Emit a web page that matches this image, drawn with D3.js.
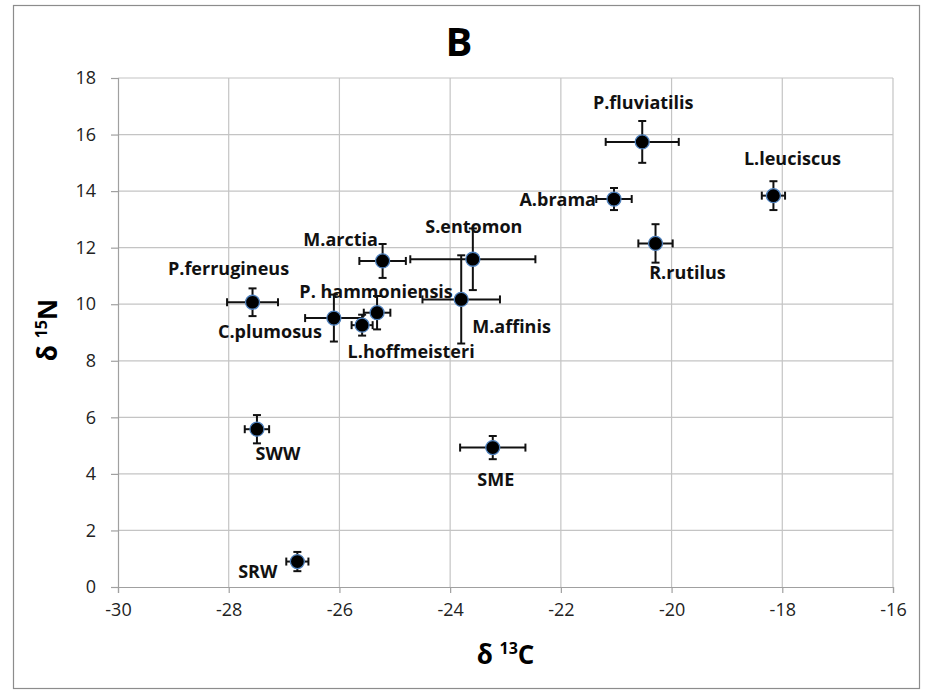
<!DOCTYPE html>
<html>
<head>
<meta charset="utf-8">
<script src="https://cdn.jsdelivr.net/npm/d3@7"></script>
<style>
  body { margin: 0; background: #fff; }
  text { font-family: "Open Sans", "Noto Sans", sans-serif; }
</style>
</head>
<body>
<div id="chart"></div>
<script>
// taxa, d13C mean / sd, d15N mean / sd
var names = ["P.fluviatilis", "L.leuciscus", "A.brama", "R.rutilus", "S.entomon", "M.arctia",
  "M.affinis", "P.ferrugineus", "C.plumosus", "L.hoffmeisteri", "P. hammoniensis", "SWW", "SME", "SRW"];
var carbon = [-20.53, -18.16, -21.04, -20.29, -23.59, -25.22, -23.80, -27.57, -26.10, -25.59, -25.32, -27.49, -23.23, -26.76];
var carbonErr = [0.66, 0.21, 0.32, 0.31, 1.13, 0.42, 0.70, 0.46, 0.52, 0.19, 0.24, 0.22, 0.59, 0.20];
var nitrogen = [15.74, 13.84, 13.72, 12.15, 11.59, 11.53, 10.17, 10.07, 9.51, 9.26, 9.70, 5.58, 4.93, 0.90];
var nitrogenErr = [0.74, 0.51, 0.39, 0.68, 1.09, 0.60, 1.56, 0.49, 0.83, 0.37, 0.59, 0.50, 0.41, 0.34];
var xTicks = [-30, -28, -26, -24, -22, -20, -18, -16];
var yTicks = [0, 2, 4, 6, 8, 10, 12, 14, 16, 18];

// label placement relative to each point: [dx, dy, anchor]
var labelPos = [[1, -39, "middle"], [19, -37, "middle"], [-18, 1, "end"], [32, 29, "middle"],
  [1, -33, "middle"], [-42, -21, "middle"], [11, 27, "start"], [-24, -34, "middle"],
  [-12, 14, "end"], [49, 27, "middle"], [-1, -21, "middle"], [21, 24, "middle"],
  [3, 32, "middle"], [-20, 10, "end"]];

var svgWidth = 926;
var svgHeight = 691;
var margin = { top: 78, right: 33, bottom: 104, left: 118 };
var width = svgWidth - margin.left - margin.right;
var height = svgHeight - margin.top - margin.bottom;

var svg = d3.select("#chart")
  .append("svg")
  .attr("width", svgWidth)
  .attr("height", svgHeight);

// outer frame
svg.append("rect")
  .attr("x", 13.5).attr("y", 5.5)
  .attr("width", 906).attr("height", 683)
  .attr("fill", "white")
  .attr("stroke", "#8c8c8c")
  .attr("stroke-width", 1.2);

var chartGroup = svg.append("g")
  .attr("transform", `translate(${margin.left}, ${margin.top})`);

var x = d3.scaleLinear().domain([-30, -16]).range([0, width]);
var y = d3.scaleLinear().domain([0, 18]).range([height, 0]);

// gridlines
chartGroup.append("g")
  .selectAll("line")
  .data(yTicks.slice(1))
  .enter()
  .append("line")
  .attr("x1", 0).attr("x2", width)
  .attr("y1", d => y(d)).attr("y2", d => y(d))
  .attr("stroke", "#c4c4c4").attr("stroke-width", 1.2);

chartGroup.append("g")
  .selectAll("line")
  .data(xTicks.slice(1))
  .enter()
  .append("line")
  .attr("y1", 0).attr("y2", height)
  .attr("x1", d => x(d)).attr("x2", d => x(d))
  .attr("stroke", "#c4c4c4").attr("stroke-width", 1.2);

// axes
var bottomAxis = d3.axisBottom(x).tickValues(xTicks).tickSize(6).tickPadding(10).tickFormat(d => String(d));
var leftAxis = d3.axisLeft(y).tickValues(yTicks).tickSize(7).tickPadding(15).tickFormat(d => String(d));

var xAxis = chartGroup.append("g")
  .attr("transform", `translate(0, ${height})`)
  .call(bottomAxis);
var yAxis = chartGroup.append("g").call(leftAxis);

[xAxis, yAxis].forEach(function(a) {
  a.select(".domain").attr("stroke", "#a0a0a0").attr("stroke-width", 1.2);
  a.selectAll(".tick line").attr("stroke", "#a0a0a0").attr("stroke-width", 1.2);
  a.selectAll(".tick text")
    .attr("fill", "#222")
    .style("font-family", "Open Sans, sans-serif")
    .style("font-size", "18px");
});

// title
svg.append("text")
  .attr("x", 459).attr("y", 56)
  .attr("text-anchor", "middle")
  .attr("font-size", "40px")
  .attr("font-weight", "bold")
  .text("B");

// axis titles
var xTitle = svg.append("text")
  .attr("x", margin.left + width / 2).attr("y", 664)
  .attr("text-anchor", "middle")
  .attr("font-size", "26px")
  .attr("font-weight", "bold");
xTitle.append("tspan").text("δ ");
xTitle.append("tspan").attr("font-size", "16px").attr("dy", -10).text("13");
xTitle.append("tspan").attr("dy", 10).text("C");

var yTitle = svg.append("text")
  .attr("transform", "translate(57, 330) rotate(-90)")
  .attr("text-anchor", "middle")
  .attr("font-size", "26px")
  .attr("font-weight", "bold");
yTitle.append("tspan").text("δ ");
yTitle.append("tspan").attr("font-size", "16px").attr("dy", -10).text("15");
yTitle.append("tspan").attr("dy", 10).text("N");

var idx = d3.range(names.length);

// error bars
var errGroup = chartGroup.append("g")
  .attr("stroke", "#111")
  .attr("stroke-width", 2);
var cap = 4;
idx.forEach(function(i) {
  var cx = x(carbon[i]), cy = y(nitrogen[i]);
  var x0 = x(carbon[i] - carbonErr[i]), x1 = x(carbon[i] + carbonErr[i]);
  var y0 = y(nitrogen[i] - nitrogenErr[i]), y1 = y(nitrogen[i] + nitrogenErr[i]);
  errGroup.append("line").attr("x1", x0).attr("x2", x1).attr("y1", cy).attr("y2", cy);
  errGroup.append("line").attr("x1", x0).attr("x2", x0).attr("y1", cy - cap).attr("y2", cy + cap);
  errGroup.append("line").attr("x1", x1).attr("x2", x1).attr("y1", cy - cap).attr("y2", cy + cap);
  errGroup.append("line").attr("x1", cx).attr("x2", cx).attr("y1", y0).attr("y2", y1);
  errGroup.append("line").attr("x1", cx - cap).attr("x2", cx + cap).attr("y1", y0).attr("y2", y0);
  errGroup.append("line").attr("x1", cx - cap).attr("x2", cx + cap).attr("y1", y1).attr("y2", y1);
});

// points
chartGroup.append("g")
  .selectAll("circle")
  .data(idx)
  .enter()
  .append("circle")
  .attr("cx", i => x(carbon[i]))
  .attr("cy", i => y(nitrogen[i]))
  .attr("r", 7)
  .attr("fill", "black")
  .attr("stroke", "#4f81bd")
  .attr("stroke-width", 1.3);

// labels
chartGroup.append("g")
  .selectAll("text")
  .data(idx)
  .enter()
  .append("text")
  .attr("x", i => x(carbon[i]) + labelPos[i][0])
  .attr("y", i => y(nitrogen[i]) + labelPos[i][1])
  .attr("dy", "0.35em")
  .attr("text-anchor", i => labelPos[i][2])
  .attr("font-size", "18px")
  .attr("font-weight", "bold")
  .attr("fill", "#111")
  .text(i => names[i]);
</script>
</body>
</html>
